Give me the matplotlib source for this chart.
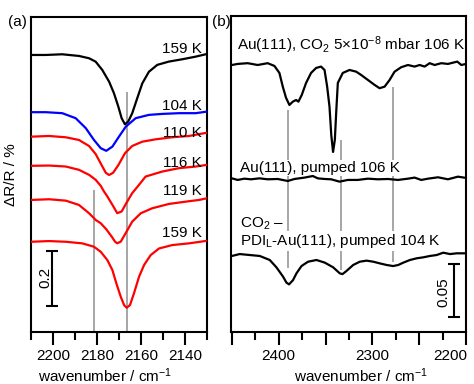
import matplotlib
matplotlib.use('Agg')
import matplotlib.pyplot as plt
import matplotlib.transforms as mtransforms
from matplotlib.ticker import MultipleLocator, FuncFormatter

plt.rcParams['font.family'] = ['Liberation Sans', 'DejaVu Sans']
plt.rcParams['mathtext.fontset'] = 'custom'
plt.rcParams['mathtext.rm'] = 'Liberation Sans'
plt.rcParams['mathtext.it'] = 'Liberation Sans:italic'
plt.rcParams['font.size'] = 11

# ---- panel (a): CO region, dR/R relative to each baseline ----
wn_159_black = [2210, 2203.3, 2195.8, 2188.2, 2183.6, 2180.6, 2177.6, 2174.5, 2172.3, 2170.3,
                2168.8, 2167.3, 2165.8, 2164.0, 2161.7, 2159.4, 2156.4, 2152.6, 2147.3, 2141.2,
                2135.1, 2130]
r_159_black = [0, 0, 0.0025, -0.0036, -0.012, -0.0244, -0.0545, -0.097, -0.139, -0.188,
               -0.230, -0.252, -0.242, -0.212, -0.157, -0.103, -0.061, -0.036, -0.024, -0.0156,
               -0.006, 0.0036]

wn_104 = [2210, 2203.3, 2195.8, 2189.7, 2185.1, 2181.4, 2178.3, 2175.8, 2173.0, 2170.0,
          2166.9, 2162.4, 2156.4, 2150.3, 2142.7, 2135.1, 2130]
r_104 = [0, 0, -0.0036, -0.0218, -0.058, -0.1007, -0.1309, -0.1404, -0.1251, -0.0887,
         -0.0524, -0.0218, -0.0098, -0.0062, -0.0036, -0.0036, 0.0022]

wn_110 = [2210, 2201.8, 2194.2, 2188.2, 2183.6, 2180.6, 2177.9, 2176.0, 2174.5, 2172.7,
          2170.3, 2167.3, 2164.0, 2159.4, 2153.3, 2145.8, 2138.2, 2130]
r_110 = [0, 0.0025, -0.0022, -0.012, -0.034, -0.0633, -0.1033, -0.1313, -0.1393, -0.1313,
         -0.1033, -0.0604, -0.0338, -0.0182, -0.0095, -0.0022, 0.0025, 0.0145]

wn_116 = [2210, 2201.8, 2194.2, 2188.2, 2183.6, 2180.6, 2178.3, 2176.8, 2175.3, 2173.0,
          2170.8, 2168.8, 2166.7, 2164.0, 2160.9, 2157.9, 2150.3, 2142.7, 2135.1, 2130]
r_116 = [0, 0.0011, -0.0025, -0.0145, -0.0327, -0.0509, -0.0727, -0.0935, -0.1113, -0.1418,
         -0.172, -0.166, -0.136, -0.0993, -0.0691, -0.0389, -0.0207, -0.0084, -0.0025, 0.0036]

wn_119 = [2210, 2201.8, 2194.2, 2188.2, 2183.6, 2180.6, 2178.3, 2175.8, 2173.3, 2171.8,
          2170.8, 2169.2, 2167.0, 2164.0, 2160.1, 2154.9, 2147.3, 2139.7, 2133.6, 2130]
r_119 = [0, 0.0025, -0.0025, -0.0182, -0.0484, -0.0727, -0.0847, -0.1065, -0.1335, -0.1516,
         -0.1575, -0.1516, -0.1211, -0.0789, -0.0484, -0.0302, -0.0145, -0.0062, 0, 0.0062]

wn_159_red = [2210, 2201.8, 2194.2, 2186.7, 2181.4, 2178.3, 2175.3, 2173.0, 2171.2, 2169.2,
              2167.7, 2166.5, 2165.0, 2163.2, 2160.9, 2158.6, 2155.6, 2151.8, 2145.8, 2138.2, 2130]
r_159_red = [0, 0.0025, 0, -0.0058, -0.018, -0.0364, -0.0665, -0.1029, -0.1513, -0.2,
             -0.23, -0.24, -0.23, -0.1876, -0.1273, -0.0844, -0.0484, -0.0244, -0.012, -0.0058, 0.0036]

curves_a = [
    (wn_159_black, r_159_black, 1.007, 'black', '159 K', 1.0145),
    (wn_104, r_104, 0.799, 'blue', '104 K', 0.807),
    (wn_110, r_110, 0.710, 'red', '110 K', 0.709),
    (wn_116, r_116, 0.604, 'red', '116 K', 0.600),
    (wn_119, r_119, 0.480, 'red', '119 K', 0.498),
    (wn_159_red, r_159_red, 0.328, 'red', '159 K', 0.345),
]
peaks_a = [2181.5, 2166.2]
peak_tops_a = [0.516, 0.873]

# ---- panel (b): CO2 region ----
wn_co2 = [2450, 2443.9, 2433.2, 2422.5, 2411.8, 2404.6, 2399.3, 2395.7, 2392.2, 2388.6,
          2385.0, 2381.5, 2379.0, 2375.4, 2370.8, 2365.5, 2360.1, 2354.8, 2351.1, 2348.3,
          2345.8, 2343.9, 2342.0, 2340.1, 2338.5, 2336.9, 2331.6, 2324.4, 2317.3, 2312.0,
          2304.8, 2297.6, 2292.3, 2286.9, 2281.6, 2276.3, 2269.2, 2262.0, 2254.9, 2249.5,
          2244.2, 2238.8, 2233.5, 2226.4, 2219.3, 2209.3, 2205.0, 2200]
r_co2 = [-0.001, 0, 0.0007, -0.001, 0.0007, -0.0019, -0.0085, -0.0214, -0.032, -0.0387,
         -0.0356, -0.034, -0.0356, -0.0292, -0.0179, -0.0085, -0.0038, -0.0025, -0.0057, -0.0214,
         -0.0403, -0.067, -0.083, -0.0717, -0.0434, -0.0179, -0.0085, -0.0057, -0.0073, -0.0104,
         -0.0151, -0.0198, -0.0229, -0.0214, -0.0151, -0.0073, -0.0031, -0.001, -0.0025, -0.001,
         -0.0025, 0.0007, -0.001, 0.0007, 0, 0.0022, -0.001, 0]

wn_pumped = [2450, 2443.9, 2436.7, 2429.6, 2420.6, 2411.8, 2401.1, 2390.4, 2383.2, 2372.5,
             2363.6, 2358.3, 2351.1, 2344.1, 2335.1, 2326.2, 2315.5, 2304.8, 2294.1, 2283.4,
             2272.7, 2262.0, 2254.9, 2247.8, 2240.6, 2229.9, 2219.3, 2208.6, 2200]
r_pumped = [0.0009, -0.0006, 0.0006, 0, 0.0009, 0, 0.0003, -0.0016, 0.0003, 0.0016,
            0.0031, 0.0009, 0.0003, 0, -0.0022, -0.0006, -0.0006, 0.0006, 0, 0.0003,
            -0.0006, 0.0006, 0.0016, -0.0006, 0.0006, 0.0019, 0, 0.0025, 0.0013]

wn_pdi = [2450, 2441.7, 2431.0, 2420.3, 2409.6, 2402.5, 2395.4, 2391.8, 2389.0, 2384.7,
          2381.1, 2375.7, 2368.7, 2359.7, 2350.8, 2341.9, 2334.8, 2331.9, 2327.6, 2320.5,
          2313.4, 2306.2, 2299.1, 2292.0, 2284.8, 2277.8, 2272.4, 2267.0, 2259.9, 2252.7,
          2245.7, 2238.5, 2231.3, 2224.3, 2217.1, 2210.0, 2202.9, 2200]
r_pdi = [-0.0009, 0.0009, 0, -0.0009, -0.0047, -0.0116, -0.0204, -0.026, -0.0277, -0.0236,
         -0.0173, -0.0104, -0.0063, -0.0047, -0.0072, -0.0116, -0.0173, -0.018, -0.015, -0.0094,
         -0.0063, -0.0053, -0.0063, -0.0079, -0.0094, -0.0104, -0.0094, -0.0072, -0.0047, -0.0031,
         -0.0022, -0.0009, 0, 0.0022, 0.0009, 0.0016, 0.0016, 0.0016]

curves_b = [(wn_co2, r_co2, 0.2528), (wn_pumped, r_pumped, 0.144), (wn_pdi, r_pdi, 0.0726)]
peaks_b = [2390, 2334, 2278]
peak_lo_b = [0.0604, 0.0585, 0.066]
peak_hi_b = [0.2094, 0.1811, 0.2311]

fig = plt.figure(figsize=(4.74, 3.84), dpi=100)
ax1 = fig.add_axes([31/474, 1-332/384, 176/474, 315/384])
ax2 = fig.add_axes([231/474, 1-332/384, 235/474, 316/384])

gray = '#a6a6a6'

# panel (a)
ax1.vlines(peaks_a, 0, peak_tops_a, color=gray, lw=1.4, zorder=1)
for wn, r, off, col, lab, ylab in curves_a:
    ax1.plot(wn, [v + off for v in r], color=col, lw=1.6, zorder=3)
    ax1.text(2132.5, ylab, lab, ha='right', va='baseline', fontsize=11, zorder=4)
ax1.set_xlim(2210, 2130)
ax1.set_ylim(0, 1.145)
ax1.xaxis.set_major_locator(MultipleLocator(20))
ax1.xaxis.set_minor_locator(MultipleLocator(10))
ax1.errorbar([2200.5], [0.1945], yerr=[0.1], color='black', lw=1.5, capsize=4.5, capthick=1.5)
ax1.text(2203.6, 0.2, '0.2', rotation=90, ha='center', va='center', fontsize=11)
ax1.set_ylabel('ΔR/R / %', fontsize=11)
ax1.yaxis.set_label_coords(-0.074, 0.5)

# panel (b)
ax2.vlines(peaks_b, peak_lo_b, peak_hi_b, color=gray, lw=1.4, zorder=1)
for wn, r, off in curves_b:
    ax2.plot(wn, [v + off for v in r], color='black', lw=1.6, zorder=3)
box = dict(facecolor='white', edgecolor='none', pad=0.5)
ax2.text(2445, 0.266, 'Au(111), CO$_2$ 5×10$^{-8}$ mbar 106 K', ha='left', va='baseline',
         fontsize=11, zorder=2, bbox=box)
ax2.text(2441.7, 0.151, 'Au(111), pumped 106 K', ha='left', va='baseline',
         fontsize=11, zorder=2, bbox=box)
ax2.text(2441.7, 0.0985, 'CO$_2$ –', ha='left', va='baseline', fontsize=11, zorder=2)
ax2.text(2441.7, 0.0821, 'PDI$_\\mathrm{L}$-Au(111), pumped 104 K', ha='left', va='baseline',
         fontsize=11, zorder=2, bbox=box)
ax2.set_xlim(2451, 2200)
ax2.set_ylim(0, 0.298)
ax2.xaxis.set_major_locator(MultipleLocator(50))
ax2.xaxis.set_minor_locator(MultipleLocator(25))
# labels only every 100; the last one (2200) sits flush with the right edge
ax2.xaxis.set_major_formatter(FuncFormatter(
    lambda v, p: '%d' % v if round(v) % 100 == 0 and round(v) != 2200 else ''))
lab_tr = mtransforms.offset_copy(ax2.get_xaxis_transform(), fig=fig, x=1, y=-12, units='points')
ax2.text(2200, 0, '2200', transform=lab_tr, ha='right', va='top', fontsize=11, clip_on=False)
ax2.errorbar([2212.8], [0.03915], yerr=[0.025], color='black', lw=1.5, capsize=4.5, capthick=1.5)
ax2.text(2224.6, 0.0377, '0.05', rotation=90, ha='center', va='center', fontsize=11)

for ax in (ax1, ax2):
    for s in ax.spines.values():
        s.set_linewidth(1.5)
    ax.set_yticks([])
    ax.tick_params(axis='x', which='major', direction='out', length=9, width=1.5, pad=3, labelsize=11)
    ax.tick_params(axis='x', which='minor', direction='out', length=5.5, width=1.5)
    ax.set_xlabel('wavenumber / cm$^{-1}$', fontsize=11)
ax1.xaxis.set_label_coords(0.42, -0.11)
ax2.xaxis.set_label_coords(0.553, -0.11)

fig.text(8/474, 1-26/384, '(a)', fontsize=11, va='baseline')
fig.text(212/474, 1-26/384, '(b)', fontsize=11, va='baseline')

fig.savefig('out.png', dpi=100)
